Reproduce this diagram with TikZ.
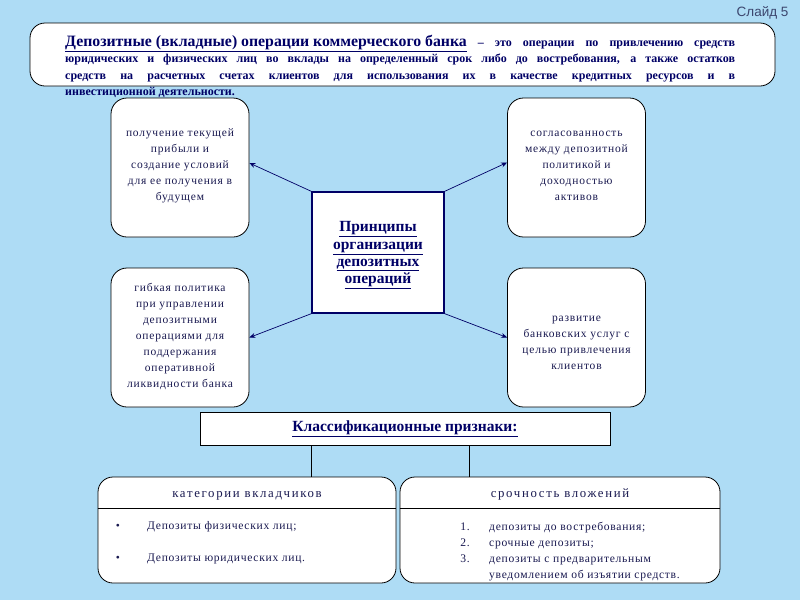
\documentclass[tikz,border=0pt]{standalone}
\usepackage{fontspec}
\setmainfont{Liberation Serif}
\newfontfamily\boxfont[LetterSpace=7]{Liberation Serif}
\newfontfamily\listfont[LetterSpace=6]{Liberation Serif}
\newfontfamily\titlefont[LetterSpace=13]{Liberation Serif}
\newfontfamily\slidefont{Liberation Sans}
\usetikzlibrary{arrows.meta,calc}
\definecolor{bg}{RGB}{174,220,245}
\definecolor{navy}{RGB}{0,0,102}
\definecolor{ink}{RGB}{25,25,80}
\definecolor{slidecol}{RGB}{60,70,110}
\begin{document}
\begin{tikzpicture}[x=1pt,y=-1pt,
  rbox/.style={draw=black, line width=0.8pt, fill=white, rounded corners=16pt,
               minimum width=138pt, minimum height=139pt, inner sep=0pt},
  boxtext/.style={font=\boxfont\fontsize{11.5}{16}\selectfont, text=ink, align=center, inner sep=0pt},
  listtext/.style={font=\listfont\fontsize{11.6}{16}\selectfont, text=ink, inner sep=0pt},
  arr/.style={-{Stealth[length=6pt,width=5pt]}, draw=navy, line width=0.7pt},
  bigbox/.style={draw=black, line width=0.8pt, fill=white, rounded corners=15pt, inner sep=0pt},
  boldtitle/.style={font=\bfseries\fontsize{15.5}{17.3}\selectfont, text=navy, align=center, inner sep=0pt}
]
\fill[bg] (0,0) rectangle (800,600);
\useasboundingbox (0,0) rectangle (800,600);

% slide number
\node[font=\slidefont\fontsize{13.5}{15}\selectfont, text=slidecol, anchor=east] (slide) at (792,13) {Слайд 5};

% header
\node[bigbox, minimum width=745pt, minimum height=63pt] (hd) at (402.5,54.5) {};
\node[anchor=north west, inner sep=0pt, text width=670pt, align=justify, text=navy,
      font=\bfseries\fontsize{12}{16.3}\selectfont] (hdt) at (65,35)
 {{\fontsize{15.8}{16.3}\selectfont\underline{Депозитные (вкладные) операции коммерческого банка}} – это операции по привлечению средств\linebreak
  юридических и физических лиц во вклады на определенный срок либо до востребования, а также остатков\linebreak
  средств на расчетных счетах клиентов для использования их в качестве кредитных ресурсов и в\linebreak
  инвестиционной деятельности.};

% four principle boxes
\node[rbox] (tl) at (180,167.5) {};
\node[rbox] (tr) at (576.5,167.5) {};
\node[rbox] (bl) at (180,337.5) {};
\node[rbox] (br) at (576.5,337.5) {};

\node[boxtext] (tlt) at (180,166) {получение текущей\\прибыли и\\создание условий\\для ее получения в\\будущем};
\node[boxtext] (trt) at (576.5,166) {согласованность\\между депозитной\\политикой и\\доходностью\\активов};
\node[boxtext] (blt) at (180,336) {гибкая политика\\при управлении\\депозитными\\операциями для\\поддержания\\оперативной\\ликвидности банка};
\node[boxtext] (brt) at (576.5,343) {развитие\\банковских услуг с\\целью привлечения\\клиентов};

% centre box
\node[draw=navy, line width=1.3pt, fill=white, minimum width=132pt, minimum height=121pt] (c) at (378,252.5) {};
\node[boldtitle] (ct) at (378,255.5) {\underline{Принципы}\\\underline{организации}\\\underline{депозитных}\\\underline{операций}};

% arrows
\draw[arr] (c.north west) -- ([yshift=4.5pt]tl.east);
\draw[arr] (c.north east) -- ([yshift=5pt]tr.west);
\draw[arr] (c.south west) -- (bl.east);
\draw[arr] (c.south east) -- (br.west);

% classification bar
\node[draw=black, line width=0.8pt, fill=white, minimum width=410pt, minimum height=33pt, boldtitle] (bar) at (405,428.5) {\underline{Классификационные признаки:}};

% bottom boxes
\node[bigbox, minimum width=298pt, minimum height=106pt] (lb) at (247,530) {};
\node[bigbox, minimum width=320pt, minimum height=106pt] (rb) at (560,530) {};
\draw[line width=0.8pt] (lb.west |- 0,508) -- (lb.east |- 0,508);
\draw[line width=0.8pt] (rb.west |- 0,508) -- (rb.east |- 0,508);

\coordinate (c1) at ($(bar.south west)!0.2732!(bar.south east)$);
\coordinate (c2) at ($(bar.south west)!0.6561!(bar.south east)$);
\draw[line width=0.8pt] (c1) -- (c1 |- lb.north);
\draw[line width=0.8pt] (c2) -- (c2 |- rb.north);

\node[font=\titlefont\fontsize{12.8}{15}\selectfont, text=ink, inner sep=0pt, anchor=base] (lbt) at (247,497.5) {категории вкладчиков};
\node[font=\titlefont\fontsize{12.8}{15}\selectfont, text=ink, inner sep=0pt, anchor=base] (rbt) at (560,497.5) {срочность вложений};

\node[listtext, anchor=base] (b1) at (118,529.5) {\textbullet};
\node[listtext, anchor=base] (b2) at (118,561.5) {\textbullet};
\node[listtext, anchor=base west] (l1) at (147,529.5) {Депозиты физических лиц;};
\node[listtext, anchor=base west] (l2) at (147,561.5) {Депозиты юридических лиц.};

\node[listtext, anchor=base east] (n1) at (470,530) {1.};
\node[listtext, anchor=base east] (n2) at (470,546) {2.};
\node[listtext, anchor=base east] (n3) at (470,562) {3.};
\node[listtext, anchor=base west] (r1) at (489,530) {депозиты до востребования;};
\node[listtext, anchor=base west] (r2) at (489,546) {срочные депозиты;};
\node[listtext, anchor=base west] (r3) at (489,562) {депозиты с предварительным};
\node[listtext, anchor=base west] (r4) at (489,578) {уведомлением об изъятии средств.};
\end{tikzpicture}
\end{document}
